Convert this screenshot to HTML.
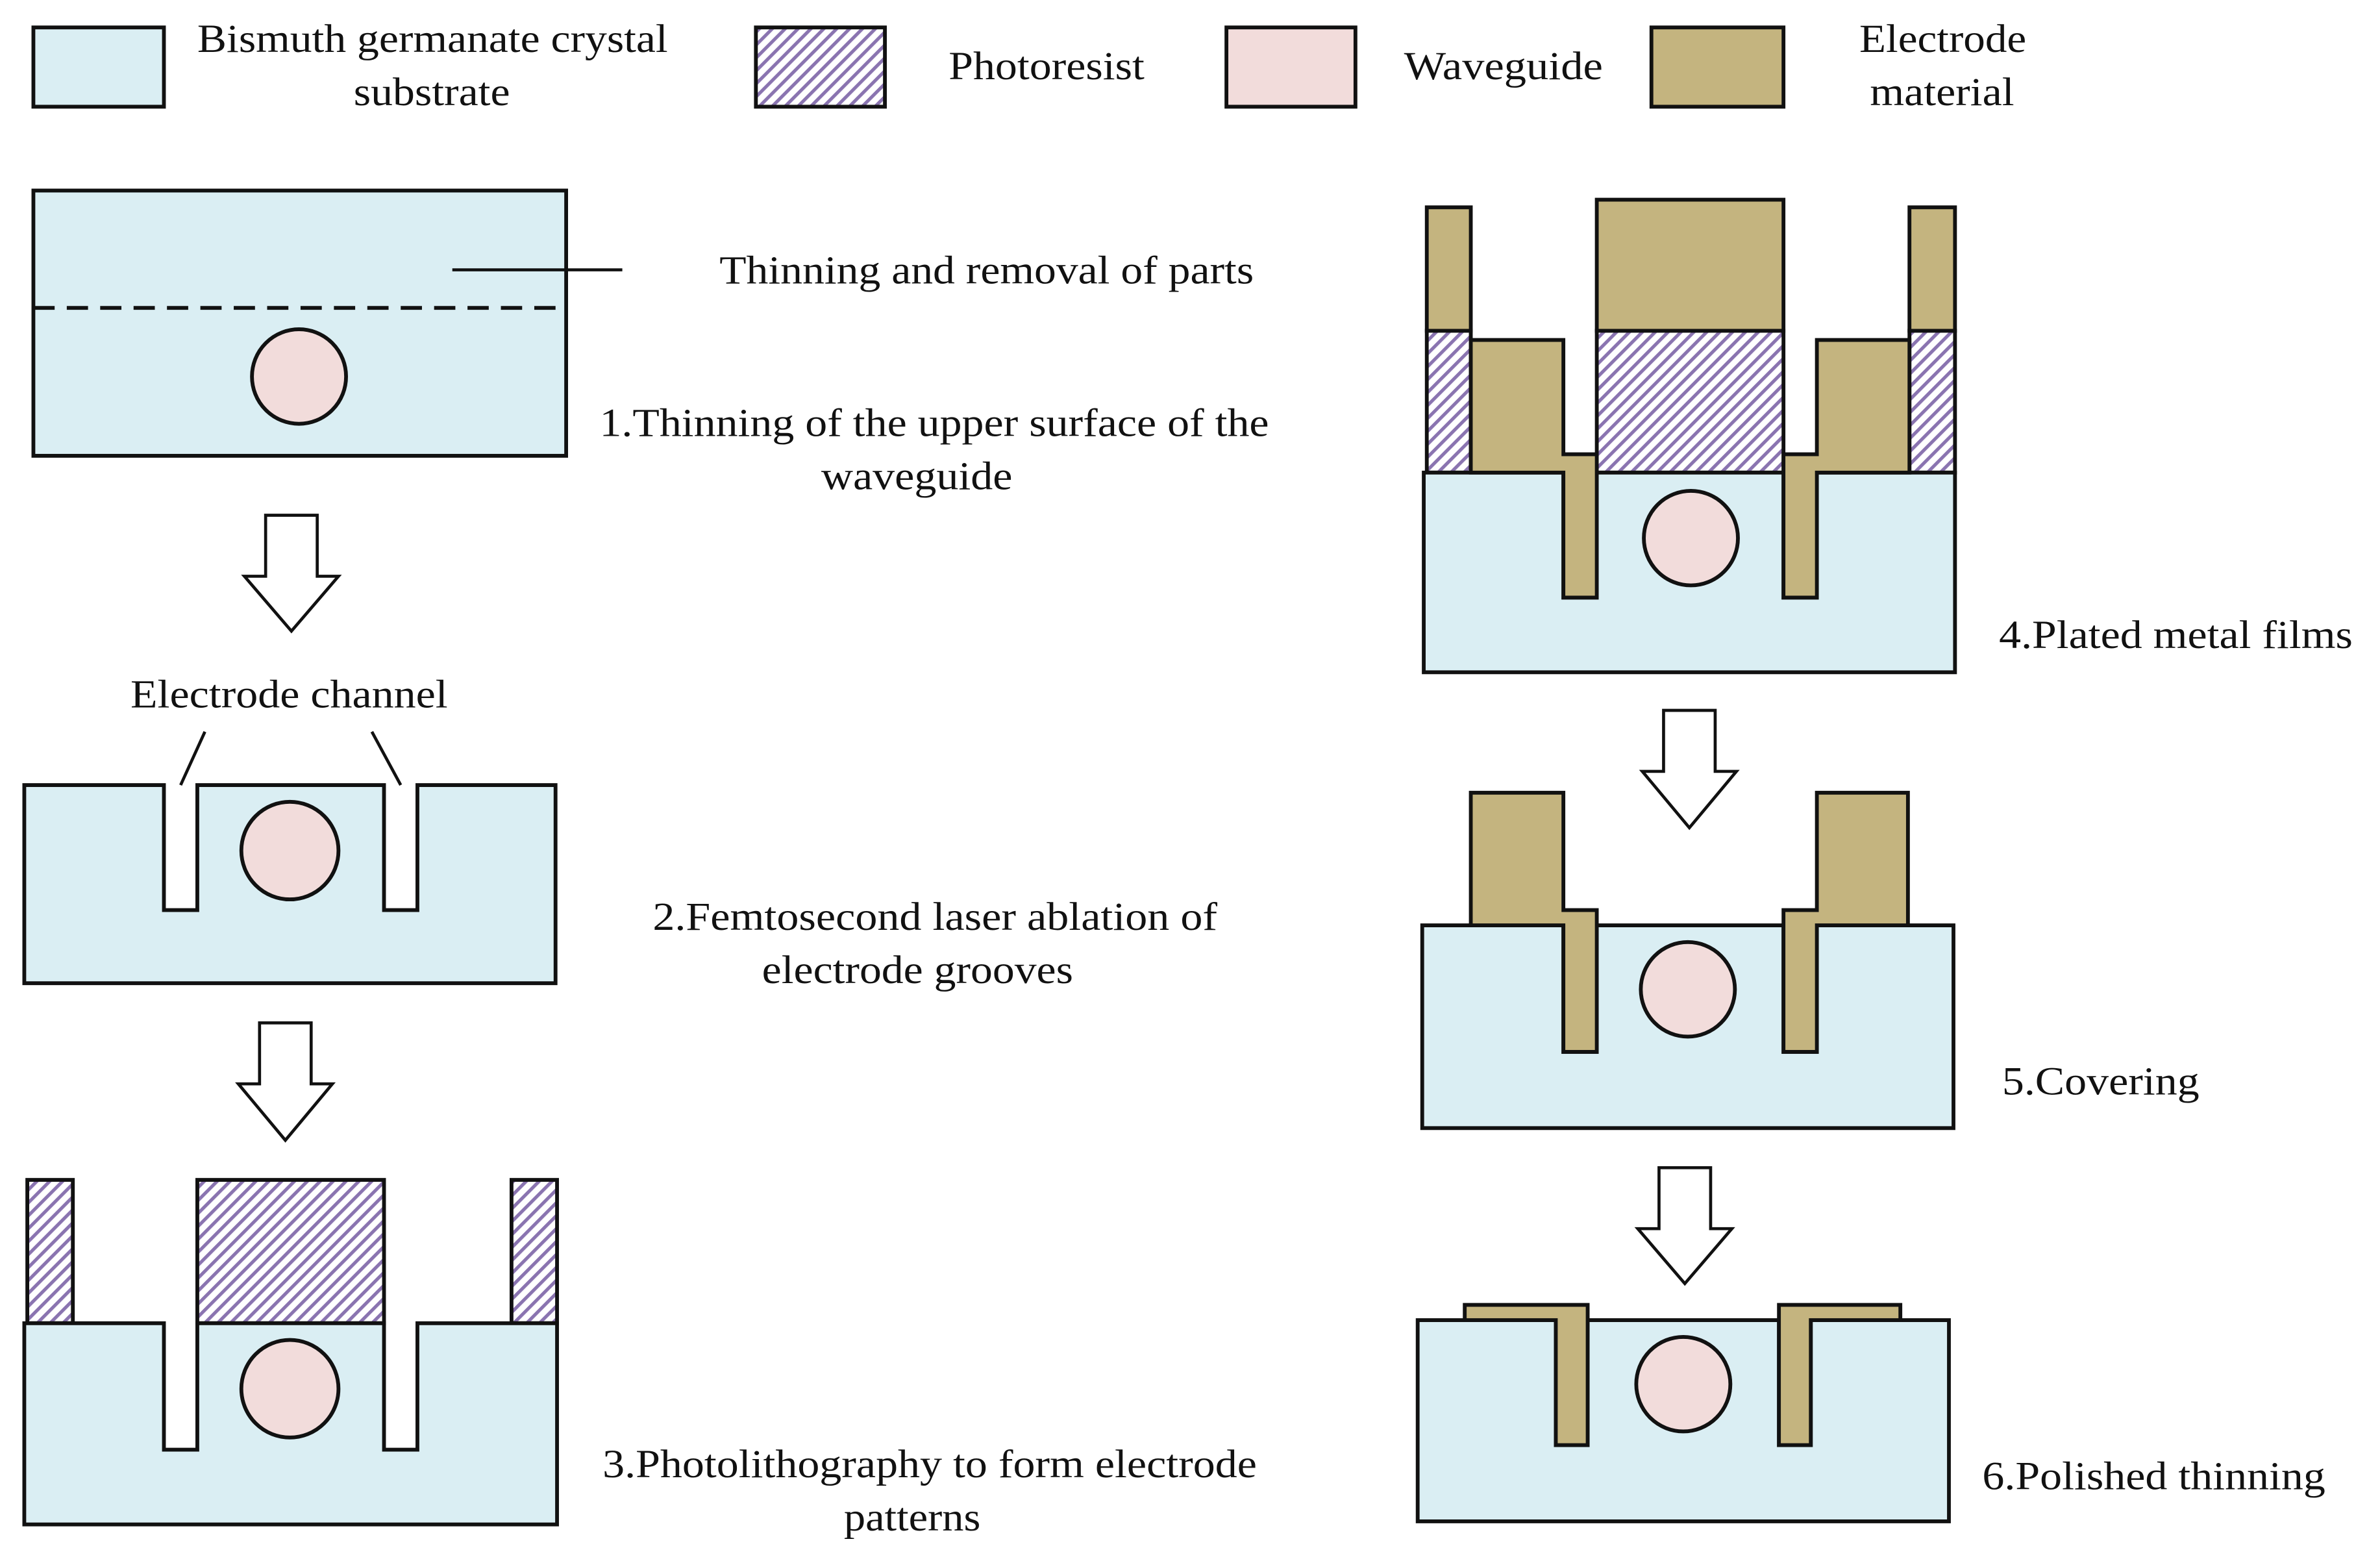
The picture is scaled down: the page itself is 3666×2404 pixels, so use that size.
<!DOCTYPE html>
<html><head><meta charset="utf-8"><style>html,body{margin:0;padding:0;background:#fff}svg{display:block}</style></head><body>
<svg width="3666" height="2404" viewBox="0 0 1568 1024" preserveAspectRatio="none" xmlns="http://www.w3.org/2000/svg">
<defs>
<pattern id="h" width="6" height="6" patternUnits="userSpaceOnUse" patternTransform="rotate(45)">
<rect width="6" height="6" fill="#fff"/><rect width="2.2" height="6" fill="#8a74b0"/>
</pattern>
</defs>
<g stroke="#111" stroke-width="2.5">
<rect x="22" y="18" width="86" height="52" fill="#daeef3"/>
<rect x="498" y="18" width="85" height="52" fill="url(#h)"/>
<rect x="808" y="18" width="85" height="52" fill="#f2dcdb"/>
<rect x="1088" y="18" width="87" height="52" fill="#c4b47f"/>
<rect x="22" y="125" width="351" height="174" fill="#daeef3"/>
<line x1="22" y1="202" x2="373" y2="202" stroke-dasharray="14,8"/>
<circle cx="197" cy="247" r="31" fill="#f2dcdb"/>
<line x1="298" y1="177" x2="410" y2="177" stroke-width="2"/>
<path d="M175 338H209V378H223L192 414L161 378H175Z" fill="#fff" stroke-width="2"/>
<path d="M171 671H205V711H219L188 748L157 711H171Z" fill="#fff" stroke-width="2"/>
<path d="M1096 466H1130V506H1144L1113 543L1082 506H1096Z" fill="#fff" stroke-width="2"/>
<path d="M1093 766H1127V806H1141L1110 842L1079 806H1093Z" fill="#fff" stroke-width="2"/>
<path d="M16 515H108V597H130V515H253V597H275V515H366V645H16Z" fill="#daeef3"/>
<circle cx="191" cy="558" r="32" fill="#f2dcdb"/>
<line x1="135" y1="480" x2="119" y2="515" stroke-width="2"/>
<line x1="245" y1="480" x2="264" y2="515" stroke-width="2"/>
<rect x="18" y="774" width="30" height="94" fill="url(#h)"/>
<rect x="130" y="774" width="123" height="94" fill="url(#h)"/>
<rect x="337" y="774" width="30" height="94" fill="url(#h)"/>
<path d="M16 868H108V951H130V868H253V951H275V868H367V1000H16Z" fill="#daeef3"/>
<circle cx="191" cy="911" r="32" fill="#f2dcdb"/>
<rect x="940" y="136" width="29" height="81" fill="#c4b47f"/>
<rect x="940" y="217" width="29" height="93" fill="url(#h)"/>
<rect x="1052" y="131" width="123" height="86" fill="#c4b47f"/>
<rect x="1052" y="217" width="123" height="93" fill="url(#h)"/>
<rect x="1258" y="136" width="30" height="81" fill="#c4b47f"/>
<rect x="1258" y="217" width="30" height="93" fill="url(#h)"/>
<path d="M938 310H1030V392H1052V310H1175V392H1197V310H1288V441H938Z" fill="#daeef3"/>
<path d="M969 223H1030V298H1052V392H1030V310H969Z" fill="#c4b47f"/>
<path d="M1258 223H1197V298H1175V392H1197V310H1258Z" fill="#c4b47f"/>
<circle cx="1114" cy="353" r="31" fill="#f2dcdb"/>
<path d="M937 607H1030V690H1052V607H1175V690H1197V607H1287V740H937Z" fill="#daeef3"/>
<path d="M969 520H1030V597H1052V690H1030V607H969Z" fill="#c4b47f"/>
<path d="M1257 520H1197V597H1175V690H1197V607H1257Z" fill="#c4b47f"/>
<circle cx="1112" cy="649" r="31" fill="#f2dcdb"/>
<path d="M934 866H1025V948H1046V866H1172V948H1193V866H1284V998H934Z" fill="#daeef3"/>
<path d="M965 856H1046V948H1025V866H965Z" fill="#c4b47f"/>
<path d="M1252 856H1172V948H1193V866H1252Z" fill="#c4b47f"/>
<circle cx="1109" cy="908" r="31" fill="#f2dcdb"/>
</g>
<g font-family="Liberation Serif, serif" font-size="26" fill="#111" lengthAdjust="spacingAndGlyphs">
<text x="130" y="34" textLength="310" lengthAdjust="spacingAndGlyphs">Bismuth germanate crystal</text>
<text x="233" y="69" textLength="103" lengthAdjust="spacingAndGlyphs">substrate</text>
<text x="625" y="52" textLength="129" lengthAdjust="spacingAndGlyphs">Photoresist</text>
<text x="925" y="52" textLength="131" lengthAdjust="spacingAndGlyphs">Waveguide</text>
<text x="1225" y="34" textLength="110" lengthAdjust="spacingAndGlyphs">Electrode</text>
<text x="1232" y="69" textLength="95" lengthAdjust="spacingAndGlyphs">material</text>
<text x="474" y="186" textLength="352" lengthAdjust="spacingAndGlyphs">Thinning and removal of parts</text>
<text x="395" y="286" textLength="441" lengthAdjust="spacingAndGlyphs">1.Thinning of the upper surface of the</text>
<text x="541" y="321" textLength="126" lengthAdjust="spacingAndGlyphs">waveguide</text>
<text x="86" y="464" textLength="209" lengthAdjust="spacingAndGlyphs">Electrode channel</text>
<text x="430" y="610" textLength="372" lengthAdjust="spacingAndGlyphs">2.Femtosecond laser ablation of</text>
<text x="502" y="645" textLength="205" lengthAdjust="spacingAndGlyphs">electrode grooves</text>
<text x="397" y="969" textLength="431" lengthAdjust="spacingAndGlyphs">3.Photolithography to form electrode</text>
<text x="556" y="1004" textLength="90" lengthAdjust="spacingAndGlyphs">patterns</text>
<text x="1317" y="425" textLength="233" lengthAdjust="spacingAndGlyphs">4.Plated metal films</text>
<text x="1319" y="718" textLength="130" lengthAdjust="spacingAndGlyphs">5.Covering</text>
<text x="1306" y="977" textLength="226" lengthAdjust="spacingAndGlyphs">6.Polished thinning</text>
</g>
</svg>
</body></html>
